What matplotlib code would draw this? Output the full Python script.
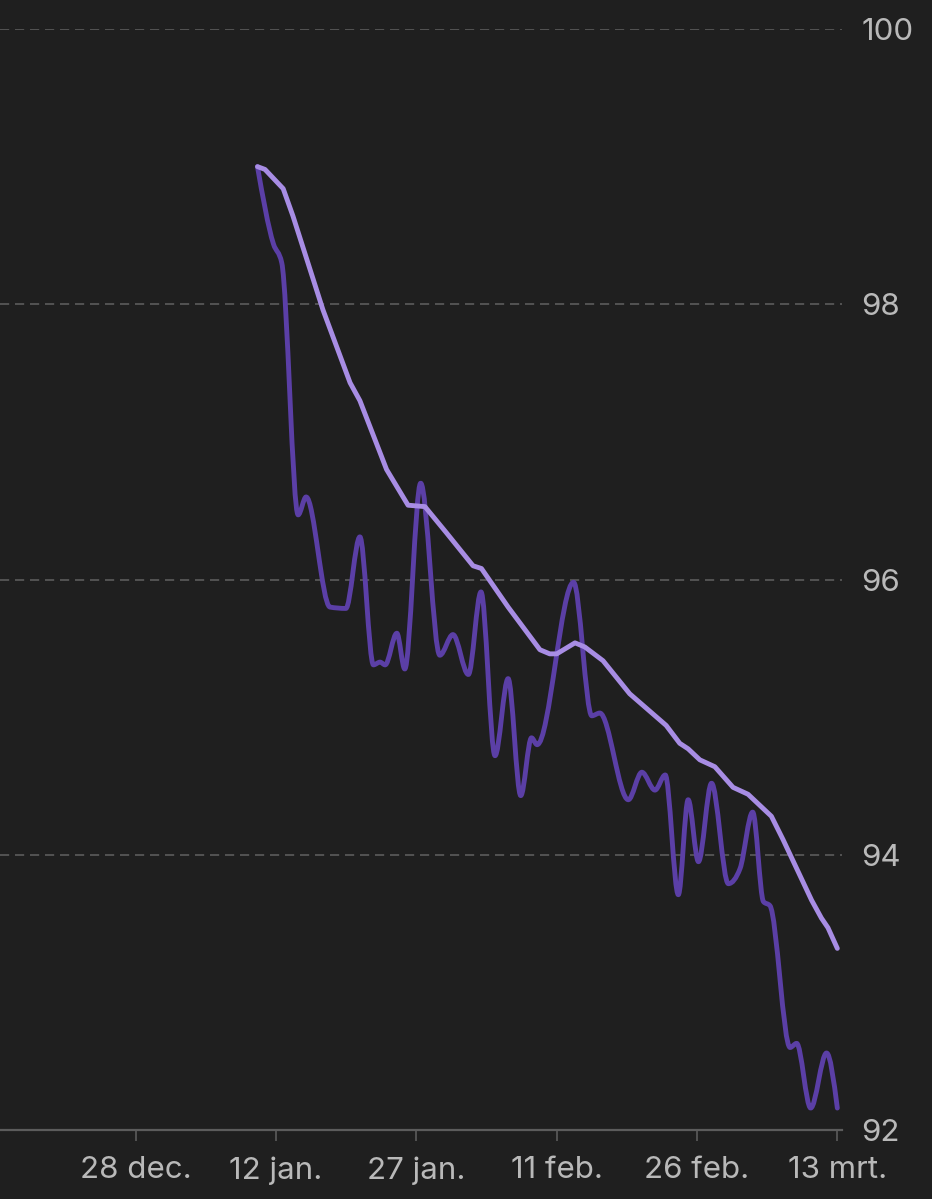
import numpy as np
import matplotlib
matplotlib.use('Agg')
import matplotlib.pyplot as plt
import matplotlib.dates as md
from matplotlib.path import Path
from matplotlib.patches import PathPatch
from datetime import datetime

plt.rcParams['font.family'] = ['Inter', 'DejaVu Sans']

# data (days after 10 jan 2023, weight in kg)
start = datetime(2023, 1, 10)

weight_days = [0.0, 1.7, 2.6, 4.35, 5.2, 7.75, 9.45, 10.95, 12.4, 13.1,
               13.65, 14.9, 15.75, 17.45, 19.5, 20.9, 22.55, 23.9, 25.4, 26.8,
               28.15, 29.3, 29.9, 33.8, 35.75, 36.6, 39.65, 41.1, 42.5, 43.6,
               45.0, 46.05, 47.15, 48.55, 50.35, 51.6, 52.95, 54.1, 54.8, 56.95,
               57.65, 59.15, 60.85, 62.0]
weight_kg = [99.0, 98.44, 98.30, 96.47, 96.60, 95.80, 95.79, 96.31, 95.38, 95.40,
             95.38, 95.61, 95.35, 96.70, 95.45, 95.60, 95.31, 95.91, 94.72, 95.28,
             94.43, 94.85, 94.80, 95.98, 95.01, 95.03, 94.40, 94.60, 94.47, 94.58,
             93.71, 94.40, 93.95, 94.52, 93.79, 93.90, 94.31, 93.66, 93.63, 92.60,
             92.63, 92.16, 92.56, 92.16]

trend_days = [0.0, 0.8, 2.75, 3.8, 7.0, 9.9, 10.95, 13.8, 16.1, 17.9, 20.2,
              23.05, 23.95, 26.8, 30.2, 31.25, 32.0, 33.95, 35.0, 36.95, 39.8,
              43.7, 45.15, 46.05, 47.3, 48.9, 50.85, 52.45, 54.95, 56.2, 59.25,
              60.3, 61.0, 62.0]
trend_kg = [99.0, 98.98, 98.84, 98.64, 97.96, 97.43, 97.30, 96.80, 96.54, 96.53, 96.34,
            96.10, 96.08, 95.80, 95.49, 95.46, 95.46, 95.54, 95.51, 95.41, 95.17,
            94.94, 94.81, 94.77, 94.69, 94.64, 94.49, 94.44, 94.28, 94.11, 93.67,
            93.54, 93.47, 93.32]

tick_dates = [datetime(2022, 12, 28), datetime(2023, 1, 12), datetime(2023, 1, 27),
              datetime(2023, 2, 11), datetime(2023, 2, 26), datetime(2023, 3, 13)]
tick_labels = ['28 dec.', '12 jan.', '27 jan.', '11 feb.', '26 feb.', '13 mrt.']
y_ticks = [92, 94, 96, 98, 100]

bg = '#1f1f1f'
dark = '#5b3fa6'
light = '#a88de4'
grey = '#5c5c5c'
label_col = '#b9b9b9'


def monotone_path(x, y):
    # smooth curve through the points (monotone cubic, drawn as bezier)
    x = np.asarray(x, float)
    y = np.asarray(y, float)
    n = len(x)
    h = np.diff(x)
    s = np.diff(y) / h
    m = np.zeros(n)
    for i in range(1, n - 1):
        p = (s[i - 1] * h[i] + s[i] * h[i - 1]) / (h[i - 1] + h[i])
        m[i] = (np.sign(s[i - 1]) + np.sign(s[i])) * min(abs(s[i - 1]), abs(s[i]), 0.5 * abs(p))
    m[0] = (3 * s[0] - m[1]) / 2
    m[-1] = (3 * s[-1] - m[-2]) / 2
    verts = [(x[0], y[0])]
    codes = [Path.MOVETO]
    for i in range(n - 1):
        dx = h[i] / 3
        verts += [(x[i] + dx, y[i] + m[i] * dx),
                  (x[i + 1] - dx, y[i + 1] - m[i + 1] * dx),
                  (x[i + 1], y[i + 1])]
        codes += [Path.CURVE4] * 3
    return Path(verts, codes)


x0 = md.date2num(start)
wx = x0 + np.array(weight_days)
tx = x0 + np.array(trend_days)

fig = plt.figure(figsize=(9.32, 11.99), dpi=100, facecolor=bg)
ax = fig.add_axes([0, 0.0575, 842 / 932, 0.9183])
ax.set_facecolor(bg)

ax.add_patch(PathPatch(monotone_path(wx, weight_kg), fill=False, edgecolor=dark,
                       lw=3.5, capstyle='round', joinstyle='round', zorder=3))
ax.plot(tx, trend_kg, color=light, lw=3.5, solid_capstyle='round',
        solid_joinstyle='round', zorder=4)

ax.set_xlim(x0 - 27.53, x0 + 62.5)
ax.set_ylim(92, 100)

ax.yaxis.tick_right()
ax.set_yticks(y_ticks)
ax.set_yticklabels([str(v) for v in y_ticks])
ax.tick_params(axis='y', length=0, pad=14, labelsize=22.5, labelcolor=label_col)

ax.set_xticks(md.date2num(tick_dates))
ax.set_xticklabels(tick_labels)
ax.tick_params(axis='x', length=8, width=1.2, color=grey, pad=11,
               labelsize=22.5, labelcolor=label_col)

ax.grid(axis='y', color=grey, lw=1.2, linestyle=(0, (5.5, 3.5)))
ax.grid(axis='x', visible=False)
ax.set_axisbelow(True)

for side in ['top', 'left', 'right']:
    ax.spines[side].set_visible(False)
ax.spines['bottom'].set_color(grey)
ax.spines['bottom'].set_linewidth(1.6)

fig.savefig('out.png', dpi=100, facecolor=bg)
